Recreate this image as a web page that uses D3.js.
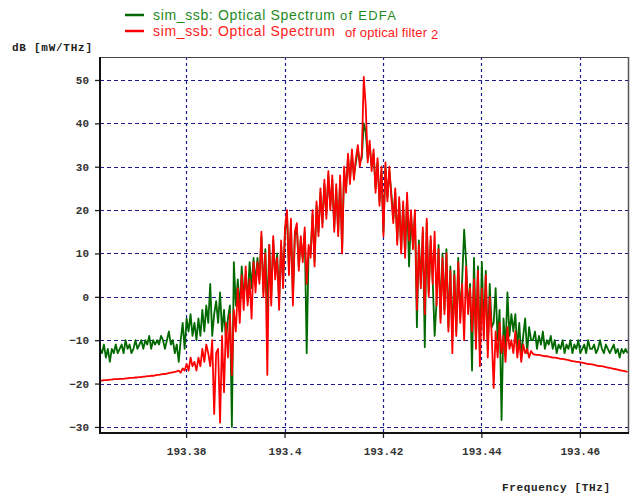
<!DOCTYPE html>
<html>
<head>
<meta charset="utf-8">
<script src="https://cdn.jsdelivr.net/npm/d3@7"></script>
<style>
  html, body { margin: 0; padding: 0; background: #ffffff; }
  svg { display: block; }
</style>
</head>
<body>
<svg id="chart" width="640" height="494"></svg>
<script>
// Frequency sampling of both spectra (THz)
const freqStart = 193.3625;
const freqStep = 0.0004;

// Tick values
const xTicks = [193.38, 193.4, 193.42, 193.44, 193.46];
const xTickLabels = ["193.38", "193.4", "193.42", "193.44", "193.46"];
const yTicks = [-30, -20, -10, 0, 10, 20, 30, 40, 50];

// Series: optical spectrum at the EDFA output (dB [mW/THz])
const edfaSpectrum = [
  -12,-13,-11,-14,-12,-15,-12,-13,-11,-13,
  -12,-11,-13,-10,-12,-11,-13,-12,-10,-12,
  -11,-10,-12,-10,-11,-9,-12,-10,-11,-10,
  -11,-9,-10,-12,-10,-8,-11,-10,-13,-11,
  -15,-10,-6,-12,-5,-8,-4,-9,-6,-10,
  -5,-9,-3,-8,-2,-6,3,-9,-4,-1,
  -6,1,-8,-3,-10,-5,-2,-30,8,-2,
  4,-3,7,0,5,-1,8,2,9,3,
  9,4,14,1,11,-4,12,0,13,5,
  10,-1,12,3,15,19,6,17,0,14,
  16,7,13,9,15,-13,11,10,19,8,
  21,15,24,17,26,19,28,21,27,16,
  25,15,27,11,29,25,32,27,33,28,
  31,34,31,32,40,38,32,35,30,33,
  25,31,22,29,15,30,23,29,24,18,
  24,13,22,11,21,10,23,7,19,12,
  19,-7,13,3,15,-11.6,17,1,13,4,
  -9,-1,12,-5,10,-3,11,-7,7,-10,
  6,-8,9,-5,4,15.5,8,-3,3,-17,
  9,-10,7,-13,8,-8,6,-12,3,-7,
  -6,2,-10,-3,-28.4,-5,-12,1,-9,-4,
  -8,-4,-12,-6,-14,-9,-5,-13,-7,-10,
  -10,-8,-12,-9,-11,-8,-12,-10,-11,-9,
  -12,-10,-13,-11,-12,-10,-13,-11,-12,-10,
  -13,-11,-12,-10,-13,-12,-11,-13,-10,-12,
  -12,-11,-13,-12,-10,-12,-13,-11,-12,-13,
  -12,-11,-13,-12,-14,-12,-13,-12,-13
];

// Series: optical spectrum after optical filter 2 (dB [mW/THz])
const filterSpectrum = [
  -19.3,-19.3,-19.2,-19.2,-19.2,-19.1,-19.1,-19.0,-19.0,-19.0,
  -18.9,-18.9,-18.9,-18.8,-18.8,-18.7,-18.7,-18.7,-18.6,-18.6,
  -18.5,-18.5,-18.4,-18.4,-18.3,-18.3,-18.2,-18.2,-18.1,-18.0,
  -18.0,-17.9,-17.8,-17.8,-17.7,-17.6,-17.5,-17.4,-17.3,-17.2,
  -17,-17.5,-16.5,-17,-15.5,-17,-14,-16,-15,-17,
  -14,-16,-12,-15,-11,-13,-16,-10,-27,-13,
  -12,-29,-9,-22,-6,-14,-4,-18,-3,-8,
  2,-6,5,-3,7,-2,4,-5,8,1,
  8,3,15,0,10,-18,12,-2,14,4,
  9,-3,13,2,16,20,5,18,-2,15,
  17,6,14,8,16,3,12,9,20,7,
  22,14,25,16,27,18,29,20,28,15,
  26,14,28,10,30,24,33,26,34,27,
  32,35,30,33,50.7,44,31,36,29,34,
  24,32,21,30,14,31,22,30,23,17,
  25,12,23,10,22,9,24,13,20,11,
  20,-3,12,2,16,-4,18,0,14,3,
  15,-2,11,-6,9,-4,10,-8,6,-13,
  5,-9,8,-6,3,-10,7,-4,2,-8,
  4,-12,6,-16,2,-10,5,-14,0,-9,
  -21,-8,-14,-6,-13,-9,-15,-7,-12,-10,
  -13,-8,-14,-10,-15,-11,-13,-12,-14,-12.5,
  -13.2,-13.3,-13.4,-13.4,-13.5,-13.6,-13.7,-13.7,-13.8,-13.9,
  -14.0,-14.0,-14.1,-14.2,-14.3,-14.3,-14.4,-14.5,-14.6,-14.7,
  -14.8,-14.9,-15.0,-15.0,-15.1,-15.2,-15.3,-15.4,-15.5,-15.5,
  -15.6,-15.7,-15.8,-15.9,-16.0,-16.0,-16.1,-16.2,-16.3,-16.4,
  -16.5,-16.6,-16.7,-16.8,-16.9,-17.0,-17.1,-17.2,-17.3
];

const seriesNames = ["sim_ssb: Optical Spectrum", "sim_ssb: Optical Spectrum"];
const seriesSuffix = ["of EDFA", "of optical filter"];
const seriesColors = ["#006a00", "#ff0000"];
const legendTextColors = ["#1f8a1f", "#ff1a1a"];

const svg = d3.select("#chart");
const plot = { left: 100, right: 629, top: 57, bottom: 433 };

const x = d3.scaleLinear().domain([193.3625, 193.47]).range([plot.left, plot.right]);
const y = d3.scaleLinear().domain([-31.4, 55.3]).range([plot.bottom, plot.top]);

const monoFont = "'Liberation Mono', 'DejaVu Sans Mono', monospace";
const sansFont = "'Liberation Sans', Arial, sans-serif";

// Grid
const gridColor = "#1c1c8e";
svg.append("g").selectAll("line").data(yTicks).join("line")
  .attr("x1", plot.left).attr("x2", plot.right)
  .attr("y1", d => Math.round(y(d)) + 0.5).attr("y2", d => Math.round(y(d)) + 0.5)
  .attr("stroke", gridColor).attr("stroke-width", 1.2)
  .attr("stroke-dasharray", "4,3");
svg.append("g").selectAll("line").data(xTicks).join("line")
  .attr("x1", d => Math.round(x(d)) + 0.5).attr("x2", d => Math.round(x(d)) + 0.5)
  .attr("y1", plot.top).attr("y2", plot.bottom)
  .attr("stroke", gridColor).attr("stroke-width", 1.2)
  .attr("stroke-dasharray", "3,3");

// Axes
const yAxis = d3.axisLeft(y).tickValues(yTicks).tickSize(5).tickPadding(6)
  .tickFormat(d3.format("d"));
const gy = svg.append("g").attr("transform", `translate(${plot.left},0)`).call(yAxis);
gy.select(".domain").remove();
gy.selectAll("line").attr("stroke", "#222").attr("stroke-width", 1.3);
gy.selectAll("text").attr("font-family", monoFont).attr("font-size", 11)
  .attr("font-weight", "bold").attr("fill", "#333");

const xAxis = d3.axisBottom(x).tickValues(xTicks).tickSize(5).tickPadding(9)
  .tickFormat((d, i) => xTickLabels[i]);
const gx = svg.append("g").attr("transform", `translate(0,${plot.bottom})`).call(xAxis);
gx.select(".domain").remove();
gx.selectAll("line").attr("stroke", "#222").attr("stroke-width", 1.3);
gx.selectAll("text").attr("font-family", monoFont).attr("font-size", 11)
  .attr("font-weight", "bold").attr("fill", "#333");

// Spectra
svg.append("clipPath").attr("id", "plotClip").append("rect")
  .attr("x", plot.left).attr("y", plot.top)
  .attr("width", plot.right - plot.left).attr("height", plot.bottom - plot.top);

const line = d3.line()
  .x((d, i) => x(freqStart + i * freqStep))
  .y(d => y(d));

const lines = svg.append("g").attr("clip-path", "url(#plotClip)");
[edfaSpectrum, filterSpectrum].forEach((vals, k) => {
  lines.append("path").datum(vals)
    .attr("d", line)
    .attr("fill", "none")
    .attr("stroke", seriesColors[k])
    .attr("stroke-width", 1.8)
    .attr("stroke-linejoin", "round");
});

// Frame
svg.append("line").attr("x1", plot.left).attr("x2", plot.right)
  .attr("y1", plot.top + 0.5).attr("y2", plot.top + 0.5).attr("stroke", "#444").attr("stroke-width", 1);
svg.append("line").attr("x1", plot.right - 0.5).attr("x2", plot.right - 0.5)
  .attr("y1", plot.top).attr("y2", plot.bottom).attr("stroke", "#555").attr("stroke-width", 1.5);
svg.append("line").attr("x1", plot.left).attr("x2", plot.left)
  .attr("y1", plot.top).attr("y2", plot.bottom + 1).attr("stroke", "#111").attr("stroke-width", 2);
svg.append("line").attr("x1", plot.left - 1).attr("x2", plot.right)
  .attr("y1", plot.bottom).attr("y2", plot.bottom).attr("stroke", "#111").attr("stroke-width", 2);

// Axis titles
svg.append("text").attr("x", 12).attr("y", 51)
  .attr("font-family", monoFont).attr("font-size", 11).attr("font-weight", "bold")
  .attr("fill", "#222").attr("textLength", 80)
  .text("dB [mW/THz]");
svg.append("text").attr("x", 502).attr("y", 491)
  .attr("font-family", monoFont).attr("font-size", 11).attr("font-weight", "bold")
  .attr("fill", "#222").attr("textLength", 108)
  .text("Frequency [THz]");

// Legend
const legend = svg.append("g");
const legendRows = [20, 36];
const suffixX = [340, 345];
const suffixLength = [56, 82];
seriesNames.forEach((name, k) => {
  const yy = legendRows[k];
  legend.append("line").attr("x1", 125).attr("x2", 144)
    .attr("y1", yy - 5).attr("y2", yy - 5)
    .attr("stroke", seriesColors[k]).attr("stroke-width", 2.5);
  legend.append("text").attr("x", 153).attr("y", yy)
    .attr("font-family", sansFont).attr("font-size", 14)
    .attr("fill", legendTextColors[k])
    .attr("textLength", 182)
    .text(name);
  legend.append("text").attr("x", suffixX[k]).attr("y", yy + k)
    .attr("font-family", sansFont).attr("font-size", 13)
    .attr("fill", legendTextColors[k])
    .attr("textLength", suffixLength[k])
    .text(seriesSuffix[k]);
});
legend.append("text").attr("x", 431).attr("y", 39)
  .attr("font-family", sansFont).attr("font-size", 13)
  .attr("fill", legendTextColors[1]).text("2");
</script>
</body>
</html>
